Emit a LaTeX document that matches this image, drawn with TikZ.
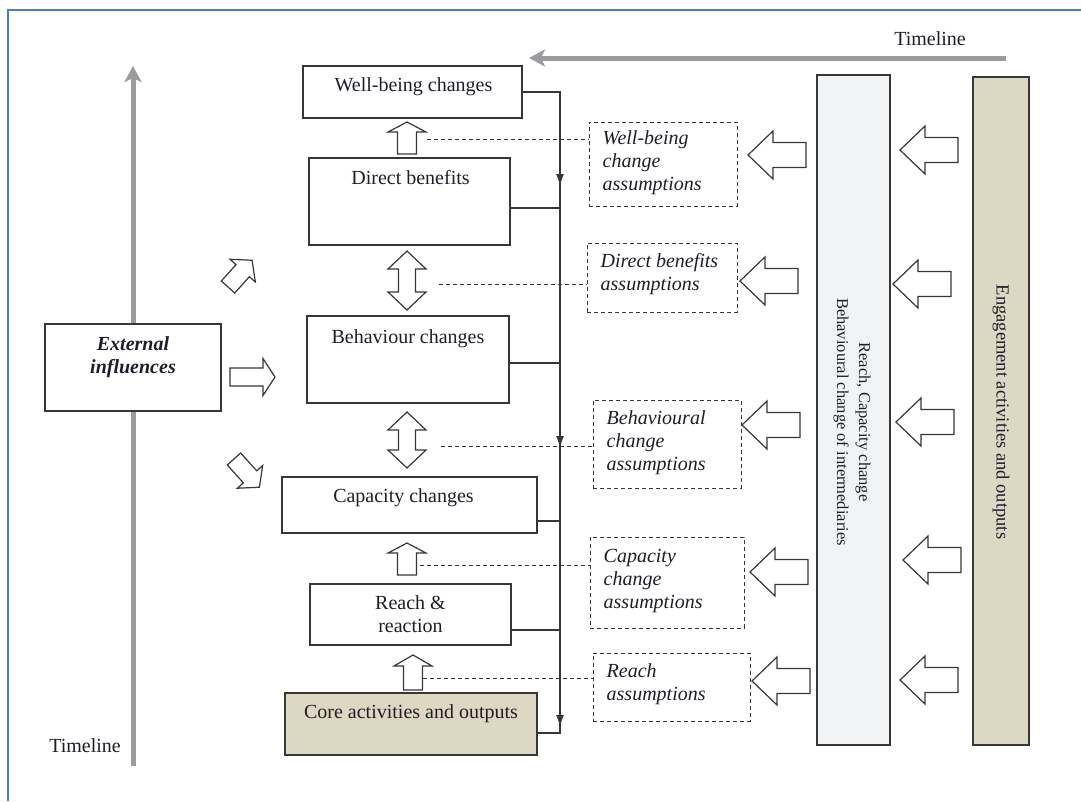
\documentclass[tikz,border=0pt]{standalone}
\usepackage{fontspec}
\setmainfont{Liberation Serif}
\usetikzlibrary{arrows.meta,calc,fit}

\definecolor{frameblue}{RGB}{74,126,193}
\definecolor{tanfill}{RGB}{221,216,195}
\definecolor{barfill}{RGB}{242,243,245}
\definecolor{timegray}{RGB}{155,155,160}
\definecolor{edge}{RGB}{55,55,55}
\definecolor{ink}{RGB}{30,30,40}

\newcommand\boxfont{\fontsize{20}{23}\selectfont}
\newcommand\assumfont{\fontsize{20}{23}\selectfont\itshape}
\newcommand\interfont{\fontsize{16.5}{22}\selectfont}
\newcommand\engagefont{\fontsize{18.5}{22}\selectfont}

\tikzset{
  box/.style={draw=edge, line width=1.3pt, inner sep=0pt},
  tanbox/.style={box, fill=tanfill},
  abox/.style={draw=edge, line width=1pt, dash pattern=on 4pt off 3pt, inner sep=0pt},
  btext/.style={font=\boxfont, text=ink, inner sep=0pt, align=center},
  atext/.style={font=\assumfont, text=ink, inner sep=0pt, align=left},
  link/.style={draw=edge, line width=1.2pt},
  dashline/.style={draw=edge, line width=1pt, dash pattern=on 4pt off 3pt},
  timeline/.style={draw=timegray, line width=5pt, -{Stealth[length=16pt,width=17pt,inset=4pt]}},
  blk/.style={draw=edge, line width=1.2pt, fill=white, line join=miter},
  pics/blockarrow/.style n args={4}{code={
    \draw[blk] (0,-#2) -- ({#1-#4},-#2) -- ({#1-#4},-#3) -- (#1,0)
      -- ({#1-#4},#3) -- ({#1-#4},#2) -- (0,#2) -- cycle;}},
  pics/dblarrow/.style n args={4}{code={
    \draw[blk] (0,0) -- (#4,-#3) -- (#4,-#2) -- ({#1-#4},-#2) -- ({#1-#4},-#3)
      -- (#1,0) -- ({#1-#4},#3) -- ({#1-#4},#2) -- (#4,#2) -- (#4,#3) -- cycle;}},
}

\begin{document}
\begin{tikzpicture}[x=1pt,y=-1pt]
\useasboundingbox (0,0) rectangle (1081,801);

% frame edges
\draw[frameblue, line width=2pt] (8,801) -- (8,10) -- (1081,10);

% timelines
\coordinate (tlRightStart) at (1006,58);
\coordinate (tlRightEnd) at (529,58);
\coordinate (tlLeftStart) at (133,766);
\coordinate (tlLeftEnd) at (133,66);
\draw[timeline] (tlRightStart) -- (tlRightEnd);
\draw[timeline] (tlLeftStart) -- (tlLeftEnd);
\node[btext, anchor=base] (tlTop) at (930,45) {Timeline};
\node[btext, anchor=base] (tlBottom) at (85,752) {Timeline};

% external influences
\node[box, fill=white, fit={(45,324)(221,411)}] (ext) {};
\node[btext, font=\boxfont\bfseries\itshape, anchor=north] (extT) at ($(ext.north)+(0,13)$) {External\\influences};

% results chain
\node[box, fit={(303,66)(522,118)}] (well) {};
\node[box, fit={(309,158)(510,245)}] (direct) {};
\node[box, fit={(307,316)(509,403)}] (behav) {};
\node[box, fit={(282,477)(537,533)}] (capac) {};
\node[box, fit={(310,584)(511,645)}] (reach) {};
\node[tanbox, fit={(285,693)(537,755)}] (core) {};

\node[btext, anchor=base] (wellT) at ($(well.north)+(1,26)$) {Well-being changes};
\node[btext, anchor=base] (directT) at ($(direct.north)+(1,27)$) {Direct benefits};
\node[btext, anchor=base] (behavT) at ($(behav.north)+(0,28)$) {Behaviour changes};
\node[btext, anchor=base] (capacT) at ($(capac.north)+(-6,26)$) {Capacity changes};
\node[btext, anchor=north] (reachT) at ($(reach.north)+(0,12)$) {Reach \&\\reaction};
\node[btext, anchor=base] (coreT) at ($(core.north)+(0,26)$) {Core activities and outputs};

% feedback bus on the right of the chain
\coordinate (busTop) at (560,92);
\coordinate (busBot) at (560,733);
\draw[link] (well.east) -- (busTop) -- (busBot) -- (core.east |- busBot);
\coordinate (s2) at (0,208);
\coordinate (s3) at (0,363);
\coordinate (s4) at (0,521);
\coordinate (s5) at (0,630);
\draw[link] (s2 -| direct.east) -- (s2 -| busTop);
\draw[link] (s3 -| behav.east) -- (s3 -| busTop);
\draw[link] (s4 -| capac.east) -- (s4 -| busTop);
\draw[link] (s5 -| reach.east) -- (s5 -| busTop);
\foreach \ya/\yb in {160/186, 420/448, 700/727}
  \draw[link, -{Latex[length=12pt,width=8pt]}] (560,\ya) -- (560,\yb);

% arrows between chain steps
\pic[rotate=90] at (407,154) {blockarrow={32}{9.5}{19}{10}};
\pic[rotate=90] at (407,310) {dblarrow={59}{8.5}{19}{18}};
\pic[rotate=90] at (407,468) {dblarrow={56}{8.5}{19}{18}};
\pic[rotate=90] at (407,575) {blockarrow={32}{9.5}{19}{10}};
\pic[rotate=90] at (413,690) {blockarrow={35}{9.5}{19}{11}};

% arrows from external influences
\pic[rotate=48] at (228,287) {blockarrow={36}{9}{17}{14}};
\pic at (230,377) {blockarrow={45}{9}{18.5}{12}};
\pic[rotate=-48] at (234,459) {blockarrow={38}{9}{17}{14}};

% assumptions
\node[abox, fit={(589,122)(737,206)}] (a1) {};
\node[abox, fit={(587,243)(737,312)}] (a2) {};
\node[abox, fit={(593,400)(741,488)}] (a3) {};
\node[abox, fit={(590,537)(744,628)}] (a4) {};
\node[abox, fit={(593,653)(750,721)}] (a5) {};
\node[atext, anchor=west] (a1T) at ($(a1.west)+(14,-1)$) {Well-being\\change\\assumptions};
\node[atext, anchor=west] (a2T) at ($(a2.west)+(14,-3)$) {Direct benefits\\assumptions};
\node[atext, anchor=west] (a3T) at ($(a3.west)+(14,-1)$) {Behavioural\\change\\assumptions};
\node[atext, anchor=west] (a4T) at ($(a4.west)+(14,-2)$) {Capacity\\change\\assumptions};
\node[atext, anchor=west] (a5T) at ($(a5.west)+(14,-3)$) {Reach\\assumptions};

\coordinate (d1) at (427,139);
\coordinate (d2) at (439,284);
\coordinate (d3) at (441,446);
\coordinate (d4) at (420,565);
\coordinate (d5) at (423,678);
\draw[dashline] (d1) -- (d1 -| a1.west);
\draw[dashline] (d2) -- (d2 -| a2.west);
\draw[dashline] (d3) -- (d3 -| a3.west);
\draw[dashline] (d4) -- (d4 -| a4.west);
\draw[dashline] (d5) -- (d5 -| a5.west);

% intermediaries and engagement bars
\node[box, fill=barfill, fit={(817,75)(890,745)}] (inter) {};
\node[tanbox, fit={(973,77)(1029,745)}] (engage) {};
\node[btext, font=\interfont, rotate=-90] (interT) at (852,422) {Reach, Capacity change\\Behavioural change of intermediaries};
\node[btext, font=\engagefont, rotate=-90] (engageT) at (1001,412) {Engagement activities and outputs};

% arrows feeding the assumptions
\foreach \xt/\yt in {806/155, 798/281, 800/425, 808/572, 810/681}
  \pic[rotate=180] at (\xt,\yt) {blockarrow={58}{12.5}{24}{25}};
\foreach \xt/\yt in {958/150, 951/284, 954/422, 961/560, 958/680}
  \pic[rotate=180] at (\xt,\yt) {blockarrow={58}{12.5}{24}{25}};

\end{tikzpicture}
\end{document}
